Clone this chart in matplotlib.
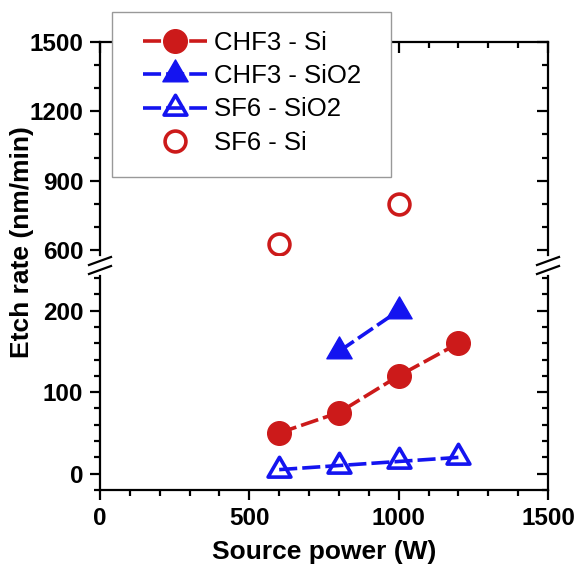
import matplotlib
matplotlib.use("Agg")
import matplotlib.pyplot as plt
from matplotlib.path import Path
from matplotlib.patches import Rectangle
from matplotlib.lines import Line2D
from matplotlib.ticker import MultipleLocator, FixedLocator

plt.rcParams['font.family'] = ['Liberation Sans', 'DejaVu Sans']

# ---- data ----
power_chf3_si = [600, 800, 1000, 1200]
rate_chf3_si = [50, 75, 120, 160]
power_chf3_sio2 = [800, 1000]
rate_chf3_sio2 = [150, 200]
power_sf6_sio2 = [600, 800, 1000, 1200]
rate_sf6_sio2 = [5, 10, 15, 20]
power_sf6_si = [600, 1000]
rate_sf6_si = [625, 800]

labels = ["CHF3 - Si", "CHF3 - SiO2", "SF6 - SiO2", "SF6 - Si"]
x_ticks = [0, 500, 1000, 1500]
y_ticks_low = [0, 100, 200]
y_ticks_up = [600, 900, 1200, 1500]

RED = '#CC1A1A'
BLUE = '#1414F0'

W, H = 580, 569
fig = plt.figure(figsize=(W / 100, H / 100), dpi=100)

def fx(px):
    return px / W

def fy(py):
    return 1 - py / H

left_px, right_px = 100, 548
up_top, up_bot = 42, 255.1
lo_top, lo_bot = 275.6, 490

ax_up = fig.add_axes([fx(left_px), fy(up_bot), fx(right_px) - fx(left_px), fy(up_top) - fy(up_bot)])
ax_lo = fig.add_axes([fx(left_px), fy(lo_bot), fx(right_px) - fx(left_px), fy(lo_top) - fy(lo_bot)])

tri = Path([(0, 1), (-0.866, -0.5), (0.866, -0.5), (0, 1)],
           [Path.MOVETO, Path.LINETO, Path.LINETO, Path.CLOSEPOLY])

lw = 2.6
dash = (5.0, 1.4)
handles = []
for ax in (ax_up, ax_lo):
    h1, = ax.plot(power_chf3_si, rate_chf3_si, color=RED, lw=lw, dashes=dash,
                  marker='o', ms=17, mfc=RED, mec=RED, mew=1)
    h2, = ax.plot(power_chf3_sio2, rate_chf3_sio2, color=BLUE, lw=lw, dashes=dash,
                  marker=tri, ms=21, mfc=BLUE, mec=BLUE, mew=1)
    h3, = ax.plot(power_sf6_sio2, rate_sf6_sio2, color=BLUE, lw=lw, dashes=dash,
                  marker=tri, ms=19, mfc='none', mec=BLUE, mew=2.6)
    h4, = ax.plot(power_sf6_si, rate_sf6_si, ls='none',
                  marker='o', ms=15, mfc='none', mec=RED, mew=2.6)
    handles = [h1, h2, h3, h4]

for ax in (ax_up, ax_lo):
    ax.set_xlim(0, 1500)
    ax.xaxis.set_major_locator(FixedLocator(x_ticks))
    ax.xaxis.set_minor_locator(MultipleLocator(100))
    for s in ax.spines.values():
        s.set_linewidth(1.6)

ax_up.set_ylim(578, 1500)
ax_up.yaxis.set_major_locator(FixedLocator(y_ticks_up))
ax_up.yaxis.set_minor_locator(MultipleLocator(100))
ax_lo.set_ylim(-20, 243)
ax_lo.yaxis.set_major_locator(FixedLocator(y_ticks_low))
ax_lo.yaxis.set_minor_locator(MultipleLocator(20))

ax_up.spines['bottom'].set_visible(False)
ax_lo.spines['top'].set_visible(False)

# upper axes ticks
ax_up.tick_params(axis='y', which='both', left=True, right=False, labelleft=True,
                  direction='out', width=1.6, pad=5)
ax_up.tick_params(axis='y', which='major', length=7)
ax_up.tick_params(axis='y', which='minor', length=4)
ax_up.tick_params(axis='x', which='both', top=True, bottom=False, labelbottom=False,
                  labeltop=False, direction='in', width=1.6)
ax_up.tick_params(axis='x', which='major', length=8)
ax_up.tick_params(axis='x', which='minor', length=4.5)

# lower axes ticks
ax_lo.tick_params(axis='y', which='both', left=True, right=False, direction='out', width=1.6, pad=5)
ax_lo.tick_params(axis='y', which='major', length=7)
ax_lo.tick_params(axis='y', which='minor', length=4)
ax_lo.tick_params(axis='x', which='both', bottom=True, top=False, direction='out', width=1.6, pad=5)
ax_lo.tick_params(axis='x', which='major', length=7)
ax_lo.tick_params(axis='x', which='minor', length=4.5)

for ax in (ax_up, ax_lo):
    for lab in ax.get_xticklabels() + ax.get_yticklabels():
        lab.set_fontsize(17.5)
        lab.set_fontweight('bold')

# mirrored inward ticks on the right via twin axes
for ax, majors, minor in ((ax_up, y_ticks_up, 100), (ax_lo, y_ticks_low, 20)):
    tw = ax.twinx()
    tw.set_ylim(ax.get_ylim())
    tw.yaxis.set_major_locator(FixedLocator(majors))
    tw.yaxis.set_minor_locator(MultipleLocator(minor))
    tw.tick_params(axis='y', which='both', direction='in', width=1.6, labelright=False)
    tw.tick_params(axis='y', which='major', length=8)
    tw.tick_params(axis='y', which='minor', length=4.5)
    for s in tw.spines.values():
        s.set_visible(False)

# break marks
for xc in (left_px, right_px):
    for yc in (261, 270):
        fig.add_artist(Line2D([fx(xc - 11), fx(xc + 11)], [fy(yc + 4), fy(yc - 4)],
                              color='black', lw=1.6, transform=fig.transFigure))

# axis labels
fig.text(fx(22), fy(242), "Etch rate (nm/min)", rotation=90, ha='center', va='center',
         fontsize=19, fontweight='bold')
fig.text(fx(324), fy(552), "Source power (W)", ha='center', va='center',
         fontsize=19, fontweight='bold')

# legend frame and legend
frame = Rectangle((fx(112), fy(177)), fx(391) - fx(112), fy(12) - fy(177),
                  transform=fig.transFigure, facecolor='white', edgecolor='#999999',
                  lw=1.0, zorder=3)
fig.add_artist(frame)
leg = fig.legend(handles, labels, loc='upper left', bbox_to_anchor=(fx(143), fy(31)),
                 bbox_transform=fig.transFigure, frameon=False, borderpad=0,
                 borderaxespad=0, fontsize=18.5, handlelength=2.5, handletextpad=0.25,
                 labelspacing=0.36, numpoints=1)
leg.set_zorder(5)

fig.savefig("out.png", dpi=100)
